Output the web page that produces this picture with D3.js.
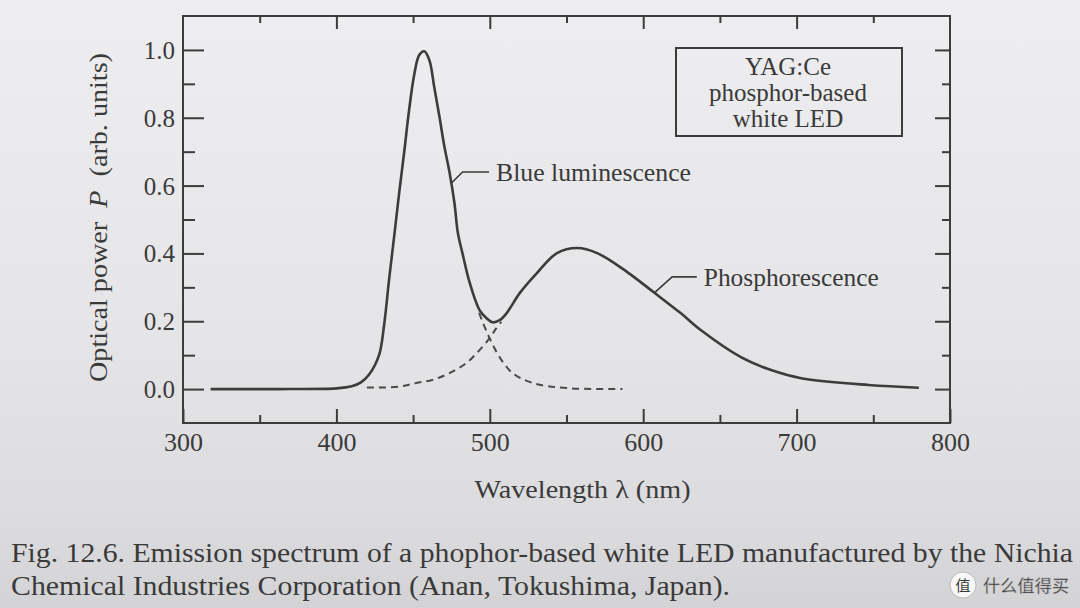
<!DOCTYPE html>
<html>
<head>
<meta charset="utf-8">
<script src="https://cdn.jsdelivr.net/npm/d3@7/dist/d3.min.js"></script>
<style>
  html, body { margin: 0; padding: 0; background: #e6e6e8; }
  svg { display: block; }
  text { font-family: "Liberation Serif", "DejaVu Serif", serif; fill: #3a3a3a; }
</style>
</head>
<body>
<svg id="chart" width="1080" height="608"></svg>
<script>
// ---- data ----
const totalWl = [318, 362, 400, 410, 416, 421.2, 427.8, 431.1, 434.3, 437.6, 440.9, 444.2, 447.4, 450.7, 454.0, 457.3, 460.6, 463.8, 467.1, 470.4, 473.7, 476.9, 479.2, 482.2, 486.8, 493.3, 497.9, 501.8, 506.4, 511.0, 519.5, 530.7, 543.8, 556.9, 570.0, 589.6, 606.7, 624.4, 637.5, 663.7, 683.4, 703.0, 746.9, 779.7];
const totalP  = [0.000, 0.000, 0.002, 0.008, 0.020, 0.042, 0.100, 0.189, 0.321, 0.448, 0.578, 0.699, 0.823, 0.926, 0.985, 0.996, 0.970, 0.890, 0.805, 0.715, 0.640, 0.550, 0.460, 0.400, 0.315, 0.233, 0.209, 0.197, 0.203, 0.224, 0.283, 0.342, 0.401, 0.416, 0.401, 0.345, 0.286, 0.224, 0.174, 0.094, 0.056, 0.032, 0.012, 0.004];

const phosWl = [419.9, 440.9, 452.0, 462.5, 473.7, 484.8, 493.3, 499.9, 504.0, 507.5];
const phosP  = [0.005, 0.007, 0.018, 0.027, 0.047, 0.077, 0.115, 0.150, 0.178, 0.198];

const blueWl = [493.0, 495.3, 499.9, 506.4, 514.9, 528.0, 550.3, 586.5];
const blueP  = [0.225, 0.198, 0.150, 0.094, 0.047, 0.018, 0.003, 0.000];

const xMajor = [300, 400, 500, 600, 700, 800];
const xMinor = [350, 450, 550, 650, 750];
const yMajor = [0.0, 0.2, 0.4, 0.6, 0.8, 1.0];
const yMinor = [0.1, 0.3, 0.5, 0.7, 0.9];

const xTitle = "Wavelength \u03bb (nm)";
const legendLines = ["YAG:Ce", "phosphor-based", "white LED"];
const blueLabel = "Blue luminescence";
const phosLabel = "Phosphorescence";
const blueAnchor = [474.7, 0.606];
const phosAnchor = [606.9, 0.282];
const caption = [
  "Fig. 12.6. Emission spectrum of a phophor-based white LED manufactured by the Nichia",
  "Chemical Industries Corporation (Anan, Tokushima, Japan)."
];

// ---- drawing ----
const svg = d3.select("#chart");
const defs = svg.append("defs");
const grad = defs.append("linearGradient").attr("id", "paper").attr("x1", 0).attr("y1", 0).attr("x2", 0).attr("y2", 1);
grad.append("stop").attr("offset", "0%").attr("stop-color", "#eeeef0");
grad.append("stop").attr("offset", "55%").attr("stop-color", "#e5e5e7");
grad.append("stop").attr("offset", "85%").attr("stop-color", "#dcdcde");
grad.append("stop").attr("offset", "100%").attr("stop-color", "#d3d3d5");
svg.append("rect").attr("width", 1080).attr("height", 608).attr("fill", "url(#paper)");

const x = d3.scaleLinear().domain([300, 800]).range([183, 950]);
const y = d3.scaleLinear().domain([-0.1, 1.1]).range([423, 16]);

const ink = "#3c3c3c";
const g = svg.append("g");

// frame
g.append("rect")
  .attr("x", x(300)).attr("y", y(1.1))
  .attr("width", x(800) - x(300)).attr("height", y(-0.1) - y(1.1))
  .attr("fill", "none").attr("stroke", ink).attr("stroke-width", 2);

function styleAxis(sel) {
  sel.select(".domain").remove();
  sel.selectAll(".tick line").attr("stroke", ink).attr("stroke-width", 2);
}

// bottom axis
const axBottom = g.append("g").attr("transform", `translate(0,${y(-0.1)})`)
  .call(d3.axisBottom(x).tickValues(xMajor).tickSize(-14).tickPadding(0).tickFormat(d3.format("d")));
styleAxis(axBottom);
axBottom.selectAll(".tick text").attr("y", 28).attr("dy", 0)
  .style("font-size", "26px").attr("fill", "#454545");
const axBottomMinor = g.append("g").attr("transform", `translate(0,${y(-0.1)})`)
  .call(d3.axisBottom(x).tickValues(xMinor).tickSize(-8).tickFormat(""));
styleAxis(axBottomMinor);

// top axis
const axTop = g.append("g").attr("transform", `translate(0,${y(1.1)})`)
  .call(d3.axisTop(x).tickValues(xMajor.slice(1, -1)).tickSize(-13).tickFormat(""));
styleAxis(axTop);
const axTopMinor = g.append("g").attr("transform", `translate(0,${y(1.1)})`)
  .call(d3.axisTop(x).tickValues(xMinor).tickSize(-7).tickFormat(""));
styleAxis(axTopMinor);

// left axis
const axLeft = g.append("g").attr("transform", `translate(${x(300)},0)`)
  .call(d3.axisLeft(y).tickValues(yMajor).tickSize(-21).tickPadding(8).tickFormat(d3.format(".1f")));
styleAxis(axLeft);
axLeft.selectAll(".tick text").attr("dy", "0.34em")
  .style("font-size", "25px").attr("fill", "#454545");
const axLeftMinor = g.append("g").attr("transform", `translate(${x(300)},0)`)
  .call(d3.axisLeft(y).tickValues(yMinor).tickSize(-12).tickFormat(""));
styleAxis(axLeftMinor);

// right axis
const axRight = g.append("g").attr("transform", `translate(${x(800)},0)`)
  .call(d3.axisRight(y).tickValues(yMajor).tickSize(-15).tickFormat(""));
styleAxis(axRight);
const axRightMinor = g.append("g").attr("transform", `translate(${x(800)},0)`)
  .call(d3.axisRight(y).tickValues(yMinor).tickSize(-8).tickFormat(""));
styleAxis(axRightMinor);

// curves
const line = d3.line().x(d => x(d[0])).y(d => y(d[1])).curve(d3.curveCatmullRom.alpha(0.5));
const zip = (a, b) => a.map((v, i) => [v, b[i]]);

g.append("path").datum(zip(phosWl, phosP)).attr("d", line)
  .attr("fill", "none").attr("stroke", "#4a4a4a").attr("stroke-width", 2).attr("stroke-dasharray", "7,5");
g.append("path").datum(zip(blueWl, blueP)).attr("d", line)
  .attr("fill", "none").attr("stroke", "#4a4a4a").attr("stroke-width", 2).attr("stroke-dasharray", "7,5");
g.append("path").datum(zip(totalWl, totalP)).attr("d", line)
  .attr("fill", "none").attr("stroke", ink).attr("stroke-width", 2.6).attr("stroke-linejoin", "round");

// annotations
function annotate(anchor, dx1, dy1, len, label, textLen) {
  const ax = x(anchor[0]), ay = y(anchor[1]);
  g.append("path")
    .attr("d", `M${ax},${ay} L${ax + dx1},${ay + dy1} L${ax + len},${ay + dy1}`)
    .attr("fill", "none").attr("stroke", ink).attr("stroke-width", 1.6);
  g.append("text").attr("x", ax + len + 7).attr("y", ay + dy1 + 9)
    .attr("textLength", textLen).attr("lengthAdjust", "spacingAndGlyphs")
    .style("font-size", "25px").text(label);
}
annotate(blueAnchor, 11.6, -11.6, 38, blueLabel, 195);
annotate(phosAnchor, 18.4, -16.6, 43, phosLabel, 175);

// legend box
const box = g.append("g");
box.append("rect").attr("x", 676).attr("y", 48).attr("width", 226).attr("height", 88)
  .attr("fill", "none").attr("stroke", ink).attr("stroke-width", 2);
box.selectAll("text").data(legendLines).join("text")
  .attr("x", 788).attr("y", (d, i) => 75 + i * 26)
  .attr("text-anchor", "middle").style("font-size", "25px").text(d => d);

// axis titles
g.append("text").attr("x", (x(300) + x(800)) / 2 + 16).attr("y", 498)
  .attr("text-anchor", "middle").attr("textLength", 216).attr("lengthAdjust", "spacingAndGlyphs")
  .style("font-size", "26px").text(xTitle);

const yt = g.append("text").attr("transform", "translate(107,217.5) rotate(-90)")
  .attr("text-anchor", "middle").attr("textLength", 329).attr("lengthAdjust", "spacingAndGlyphs")
  .style("font-size", "25px");
yt.append("tspan").text("Optical power ");
yt.append("tspan").style("font-style", "italic").text("\u00a0P\u00a0");
yt.append("tspan").text(" (arb. units)");

// caption
svg.selectAll("text.cap").data(caption).join("text").attr("class", "cap")
  .attr("x", 11).attr("y", (d, i) => 562 + i * 33)
  .attr("textLength", (d, i) => i === 0 ? 1062 : 719).attr("lengthAdjust", "spacingAndGlyphs")
  .style("font-size", "28px").attr("fill", "#333").text(d => d);

// watermark
const wm = svg.append("g");
wm.append("circle").attr("cx", 963).attr("cy", 585).attr("r", 13)
  .attr("fill", "#f8f8f8").attr("stroke", "#bbb").attr("stroke-width", 1);
wm.append("text").attr("x", 963).attr("y", 591).attr("text-anchor", "middle")
  .style("font-family", "'Noto Sans CJK SC'").style("font-size", "15px").attr("fill", "#999").text("值");
wm.append("text").attr("x", 983).attr("y", 592)
  .style("font-family", "'Noto Sans CJK SC'").style("font-size", "17px")
  .attr("fill", "#fafafa").attr("stroke", "#aaa").attr("stroke-width", 0.4)
  .attr("textLength", 86).text("什么值得买");
</script>
</body>
</html>
